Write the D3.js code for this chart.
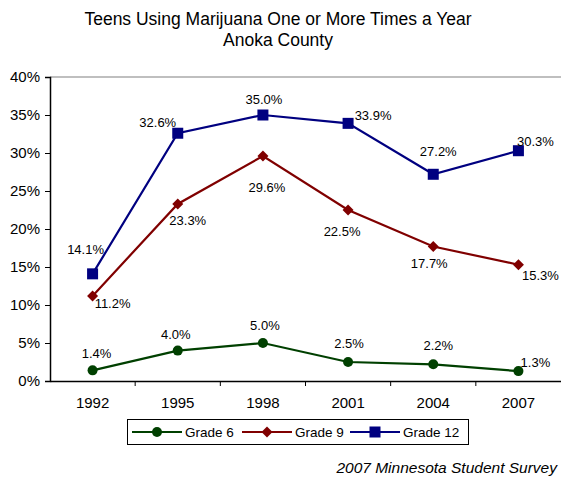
<!DOCTYPE html>
<html><head><meta charset="utf-8">
<script src="https://cdnjs.cloudflare.com/ajax/libs/d3/7.8.5/d3.min.js"></script>
<style>body{margin:0;background:#fff}svg{display:block;font-family:"Liberation Sans",Arial,sans-serif}</style>
</head><body><svg id="c" width="561" height="479"></svg>
<script>
const years = ["1992","1995","1998","2001","2004","2007"];
const grade6 = [1.4, 4.0, 5.0, 2.5, 2.2, 1.3];
const grade9 = [11.2, 23.3, 29.6, 22.5, 17.7, 15.3];
const grade12 = [14.1, 32.6, 35.0, 33.9, 27.2, 30.3];
const yTicks = [0,5,10,15,20,25,30,35,40];
const seriesNames = ["Grade 6","Grade 9","Grade 12"];

const series = [
  {name: seriesNames[0], values: grade6, color: "#004000", marker: "circle",
   off: [[4,-17],[-2,-16],[2,-18],[1,-19],[5,-19],[17,-9]]},
  {name: seriesNames[1], values: grade9, color: "#800000", marker: "diamond",
   off: [[20,8],[10,17],[4,31],[-6,21],[-4,17],[22,11]]},
  {name: seriesNames[2], values: grade12, color: "#000080", marker: "square",
   off: [[-7,-24],[-20,-11],[1,-16],[25,-8],[5,-23],[17,-9]]}
];

const svg = d3.select("#c");
const L = 50, R = 561, T = 77, B = 381;
const x = d3.scaleBand().domain(years).range([L, R]);
const y = d3.scaleLinear().domain([0, 40]).range([B, T]);

// title
svg.append("text").attr("x", 278).attr("y", 25).attr("text-anchor","middle")
  .attr("font-size", 17.5).text("Teens Using Marijuana One or More Times a Year");
svg.append("text").attr("x", 278).attr("y", 46).attr("text-anchor","middle")
  .attr("font-size", 17.5).text("Anoka County");

// plot border top
svg.append("line").attr("x1", L).attr("x2", R).attr("y1", T).attr("y2", T)
  .attr("stroke", "#808080").attr("stroke-width", 1.2);

// y axis
const ya = svg.append("g").attr("transform", `translate(${L},0)`)
  .call(d3.axisLeft(y).tickValues(yTicks).tickFormat(d => d + "%").tickSize(5).tickPadding(5));
ya.select(".domain").attr("stroke", "#000").attr("stroke-width", 1.5);
ya.selectAll(".tick line").attr("stroke", "#000");
ya.selectAll("text").attr("font-size", 15).attr("fill", "#000")
  .attr("font-family", '"Liberation Sans",Arial,sans-serif');

// x axis
const xa = svg.append("g").attr("transform", `translate(0,${B})`)
  .call(d3.axisBottom(x).tickSize(0).tickPadding(16));
xa.select(".domain").attr("stroke", "#000").attr("stroke-width", 1.5);
xa.selectAll("text").attr("font-size", 15).attr("fill", "#000")
  .attr("font-family", '"Liberation Sans",Arial,sans-serif');
// category boundary ticks
const bounds = years.map(d => x(d)).concat([R]);
svg.append("g").selectAll("line").data(bounds.slice(1, -1)).join("line")
  .attr("x1", d => d).attr("x2", d => d).attr("y1", B).attr("y2", B + 5)
  .attr("stroke", "#000");

const cx = d => x(d) + x.bandwidth() / 2;

function drawMarker(g, type, color, px, py) {
  if (type === "circle") {
    g.append("circle").attr("cx", px).attr("cy", py).attr("r", 5).attr("fill", color);
  } else if (type === "diamond") {
    g.append("path").attr("d", `M${px},${py-5.5}L${px+5.5},${py}L${px},${py+5.5}L${px-5.5},${py}Z`).attr("fill", color);
  } else {
    g.append("rect").attr("x", px - 5.5).attr("y", py - 5.5).attr("width", 11).attr("height", 11).attr("fill", color);
  }
}

const line = d3.line().x((d, i) => cx(years[i])).y(d => y(d));
series.forEach(s => {
  const g = svg.append("g");
  g.append("path").attr("d", line(s.values)).attr("fill", "none")
    .attr("stroke", s.color).attr("stroke-width", 2.2);
  s.values.forEach((v, i) => drawMarker(g, s.marker, s.color, cx(years[i]), y(v)));
  s.values.forEach((v, i) => {
    g.append("text").attr("x", cx(years[i]) + s.off[i][0]).attr("y", y(v) + s.off[i][1])
      .attr("text-anchor", "middle").attr("dominant-baseline", "central")
      .attr("font-size", 13).attr("fill", "#000").text(v.toFixed(1) + "%");
  });
});

// legend
const lg = svg.append("g");
lg.append("rect").attr("x", 127.5).attr("y", 419.5).attr("width", 341).attr("height", 25)
  .attr("fill", "#fff").attr("stroke", "#000").attr("stroke-width", 1);
const legX = [132, 242, 350];
series.forEach((s, i) => {
  const lx = legX[i], ly = 432;
  lg.append("line").attr("x1", lx).attr("x2", lx + 50).attr("y1", ly).attr("y2", ly)
    .attr("stroke", s.color).attr("stroke-width", 2.2);
  drawMarker(lg, s.marker, s.color, lx + 25, ly);
  lg.append("text").attr("x", lx + 53).attr("y", ly).attr("dominant-baseline", "central")
    .attr("font-size", 13.5).text(s.name);
});

// footer
svg.append("text").attr("x", 557).attr("y", 473).attr("text-anchor", "end")
  .attr("font-size", 15.5).attr("font-style", "italic").text("2007 Minnesota Student Survey");
</script></body></html>
